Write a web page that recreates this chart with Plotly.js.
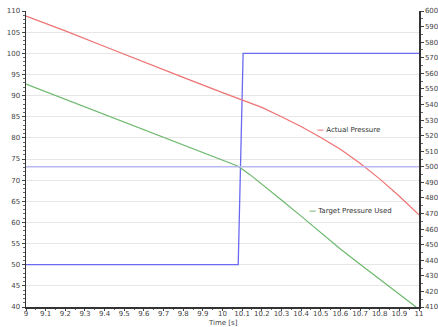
<!DOCTYPE html>
<html>
<head>
<meta charset="utf-8">
<script src="https://cdn.plot.ly/plotly-3.0.1.min.js"></script>
<style>html,body{margin:0;padding:0;background:#fff;}#chart{width:438px;height:327px;}</style>
</head>
<body>
<div id="chart"></div>
<script>
// Actual Pressure (left axis)
const actualTime = [9.0, 9.2, 9.4, 9.6, 9.8, 10.0, 10.1, 10.2, 10.3, 10.4, 10.5, 10.6, 10.7, 10.8, 10.9, 11.0];
const actualPressure = [108.8, 105.3, 101.6, 97.9, 94.3, 90.7, 89.0, 87.2, 85.0, 82.7, 80.1, 77.3, 74.0, 70.3, 66.2, 61.8];

// Target Pressure Used (left axis)
const targetTime = [9.0, 9.5, 10.0, 10.08, 10.14, 10.2, 10.3, 10.4, 10.5, 10.6, 10.7, 10.8, 10.9, 10.985];
const targetPressure = [92.7, 83.7, 74.7, 73.3, 71.3, 69.1, 65.3, 61.5, 57.5, 53.7, 50.1, 46.6, 43.1, 40.0];

// Step signal (left axis)
const stepTime = [9.0, 10.08, 10.105, 11.0];
const stepValue = [50, 50, 100, 100];

// Reference level (right axis)
const refTime = [9.0, 11.0];
const refValue = [500, 500];

const labelActual = 'Actual Pressure';
const labelTarget = 'Target Pressure Used';
const xTitle = 'Time [s]';

const font = {family: 'DejaVu Sans, Verdana, sans-serif', size: 7, color: '#444'};

const traces = [
  {x: refTime, y: refValue, yaxis: 'y2', mode: 'lines', line: {color: '#b9b9f2', width: 1.5}},
  {x: stepTime, y: stepValue, mode: 'lines', line: {color: '#6a6af0', width: 1.3}},
  {x: actualTime, y: actualPressure, mode: 'lines', line: {color: '#ee7272', width: 1.2}},
  {x: targetTime, y: targetPressure, mode: 'lines', line: {color: '#6cb86c', width: 1.2}}
];

const layout = {
  width: 438, height: 327,
  margin: {l: 26, r: 19, t: 11, b: 20, pad: 0},
  paper_bgcolor: '#fff', plot_bgcolor: '#fff',
  showlegend: false,
  font: font,
  xaxis: {
    range: [9, 11], dtick: 0.1, tick0: 9,
    showline: true, linecolor: '#333', linewidth: 1.5,
    ticks: 'outside', ticklen: 2, tickcolor: '#444',
    ticklabelstandoff: -3,
    minor: {dtick: 0.05, ticks: 'outside', ticklen: 1, tickcolor: '#666', showgrid: false},
    showgrid: false, zeroline: false,
    tickfont: font
  },
  yaxis: {
    range: [40, 110], dtick: 5, tick0: 40,
    showline: true, linecolor: '#333', linewidth: 1.5,
    ticks: 'outside', ticklen: 3, tickcolor: '#444',
    minor: {dtick: 1, ticks: 'outside', ticklen: 2, tickcolor: '#666', showgrid: false},
    showgrid: true, gridcolor: '#e6e6e6', gridwidth: 1, zeroline: false,
    tickfont: font
  },
  yaxis2: {
    range: [410, 600], dtick: 10, tick0: 410,
    overlaying: 'y', side: 'right',
    showline: true, linecolor: '#333', linewidth: 1.5,
    ticks: 'outside', ticklen: 3, tickcolor: '#444',
    minor: {dtick: 5, ticks: 'outside', ticklen: 2, tickcolor: '#666', showgrid: false},
    showgrid: false, zeroline: false,
    tickfont: font
  },
  annotations: [
    {xref: 'paper', yref: 'paper', x: 0.5, y: -0.054, xanchor: 'center', yanchor: 'middle', showarrow: false,
     text: xTitle, font: font},
    {xref: 'paper', yref: 'paper', x: 0.735, y: 0.598, xanchor: 'left', yanchor: 'middle', showarrow: false,
     text: '<span style="color:#ee7272"><b>—</b></span> ' + labelActual, font: {family: font.family, size: 7, color: '#333'}},
    {xref: 'paper', yref: 'paper', x: 0.715, y: 0.324, xanchor: 'left', yanchor: 'middle', showarrow: false,
     text: '<span style="color:#6cb86c"><b>—</b></span> ' + labelTarget, font: {family: font.family, size: 7, color: '#333'}}
  ]
};

Plotly.newPlot('chart', traces, layout, {displayModeBar: false, staticPlot: true});
</script>
</body>
</html>
